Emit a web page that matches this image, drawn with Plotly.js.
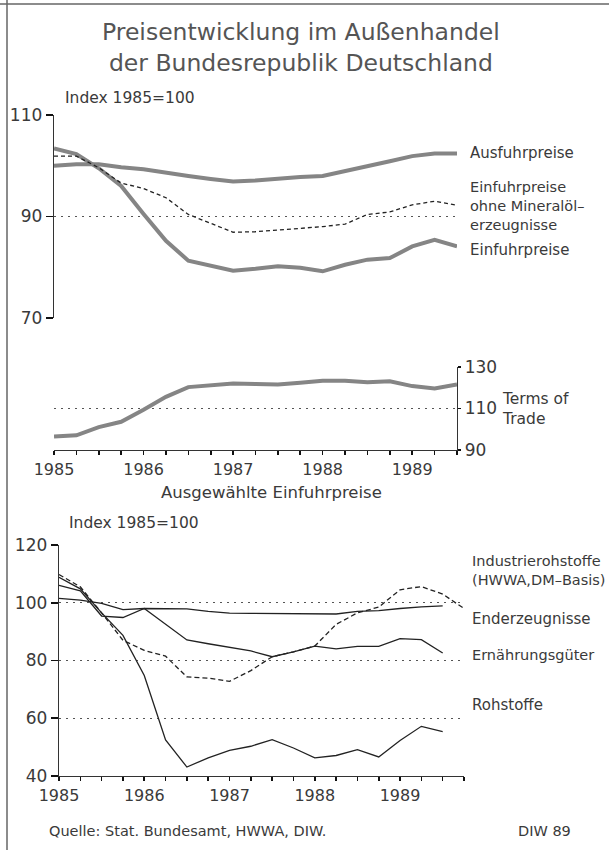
<!DOCTYPE html>
<html>
<head>
<meta charset="utf-8">
<script src="https://cdn.plot.ly/plotly-3.0.1.min.js"></script>
<style>html,body{margin:0;padding:0;background:#fff;}#chart{width:609px;height:850px;}</style>
</head>
<body>
<div id="chart"></div>
<script>
// ---- data ----
var quartersTop = [1985.0,1985.25,1985.5,1985.75,1986.0,1986.25,1986.5,1986.75,1987.0,1987.25,1987.5,1987.75,1988.0,1988.25,1988.5,1988.75,1989.0,1989.25,1989.5];
var quartersBottom = [1985.0,1985.25,1985.5,1985.75,1986.0,1986.25,1986.5,1986.75,1987.0,1987.25,1987.5,1987.75,1988.0,1988.25,1988.5,1988.75,1989.0,1989.25,1989.5,1989.75];
var years = [1985, 1986, 1987, 1988, 1989];
var yearLabels = ['1985', '1986', '1987', '1988', '1989'];

var ausfuhrpreise = [100.0,100.3,100.3,99.7,99.3,98.6,98.0,97.4,96.9,97.1,97.5,97.8,98.0,98.9,99.9,100.9,101.9,102.4,102.4];
var einfuhrpreise = [103.4,102.3,99.5,96.0,90.5,85.2,81.3,80.3,79.3,79.7,80.2,79.9,79.2,80.5,81.5,81.8,84.1,85.4,84.1];
var einfuhrOhneMineraloel = [101.9,101.9,99.6,96.6,95.5,93.7,90.4,88.7,86.9,87.0,87.3,87.7,88.0,88.5,90.4,90.9,92.3,93.0,92.2];
var termsOfTrade = [96.5,97.1,101.0,103.6,109.4,115.6,120.3,121.3,122.1,121.8,121.6,122.4,123.4,123.4,122.6,123.1,120.8,119.6,121.6];

var industrierohstoffe = [109.8,105.5,96.5,87.0,83.5,81.5,74.3,73.9,72.8,76.5,81.3,83.0,85.0,92.5,96.5,98.5,104.5,105.6,103.0,98.0];
var enderzeugnisse = [101.5,100.9,99.8,97.6,98.0,98.0,97.9,97.0,96.4,96.3,96.3,96.2,96.1,96.1,97.0,97.3,98.0,98.6,98.9];
var ernaehrungsgueter = [106.0,104.1,95.4,94.9,98.0,92.5,87.1,85.8,84.6,83.3,81.3,83.0,85.0,84.0,84.9,84.9,87.6,87.2,82.6];
var rohstoffe = [108.8,104.8,96.5,88.7,74.8,52.5,43.1,46.3,48.9,50.3,52.6,49.7,46.3,47.1,49.1,46.6,52.3,57.2,55.4];

var topTicks = [70,90,110];
var totTicks = [90,110,130];
var bottomTicks = [40,60,80,100,120];

// ---- layout helpers ----
var W = 609, H = 850;
function px(x){ return x / W; }
function py(y){ return 1 - y / H; }

var FONT = 'DejaVu Sans';
var TXT = '#3a3a3a';
var GRID = '#555';
var DOT = '2px,5px';
var TICKC = '#111';

var thickGray = {color:'#858585', width:4};
var thin = {color:'#222', width:1.3};

var traces = [
  {x: quartersTop, y: ausfuhrpreise, xaxis:'x', yaxis:'y', mode:'lines', line: thickGray, name:'Ausfuhrpreise'},
  {x: quartersTop, y: einfuhrpreise, xaxis:'x', yaxis:'y', mode:'lines', line: thickGray, name:'Einfuhrpreise'},
  {x: quartersTop, y: einfuhrOhneMineraloel, xaxis:'x', yaxis:'y', mode:'lines', line:{color:'#222', width:1.3, dash:'4px,3px'}, name:'ohne Mineralöl'},
  {x: quartersTop, y: termsOfTrade, xaxis:'x2', yaxis:'y2', mode:'lines', line: thickGray, name:'Terms of Trade'},
  {x: quartersBottom, y: industrierohstoffe, xaxis:'x3', yaxis:'y3', mode:'lines', line:{color:'#222', width:1.3, dash:'5px,3px'}, name:'Industrierohstoffe'},
  {x: quartersBottom.slice(0, enderzeugnisse.length), y: enderzeugnisse, xaxis:'x3', yaxis:'y3', mode:'lines', line: thin, name:'Enderzeugnisse'},
  {x: quartersBottom.slice(0, ernaehrungsgueter.length), y: ernaehrungsgueter, xaxis:'x3', yaxis:'y3', mode:'lines', line: thin, name:'Ernährungsgüter'},
  {x: quartersBottom.slice(0, rohstoffe.length), y: rohstoffe, xaxis:'x3', yaxis:'y3', mode:'lines', line: thin, name:'Rohstoffe'}
];

var tickFont = {family: FONT, size: 16, color: TXT};

function yearAxis(domain, range, anchor, overlay){
  var dir = overlay ? 'inside' : 'outside';
  var a = {
    domain: domain, range: range, anchor: anchor,
    tickmode:'array', tickvals: years, ticktext: yearLabels,
    ticks: dir, ticklen: 4, tickwidth: 1.6, tickcolor: TICKC,
    minor: {tick0: 1985, dtick: 0.25, ticks: dir, ticklen: 4, tickwidth: 1.6, tickcolor: TICKC, showgrid: false},
    showline: true, linecolor: '#333', linewidth: 1.3,
    showgrid: false, zeroline: false, tickfont: tickFont
  };
  if (overlay) { a.overlaying = overlay; a.showticklabels = false; }
  return a;
}

function valueAxis(domain, range, anchor, tickvals, side, ticks, len){
  return {domain: domain, range: range, anchor: anchor, side: side,
          tickmode:'array', tickvals: tickvals, ticks: ticks, ticklen: len, tickwidth:1.6, tickcolor: TICKC,
          showline:true, linecolor:'#333', linewidth:1.3,
          showgrid:true, gridcolor:GRID, gridwidth:1.3, griddash:DOT,
          zeroline:false, tickfont:{family:FONT, size:17, color:TXT}};
}

var layout = {
  width: W, height: H,
  margin: {l:0, r:0, t:0, b:0, pad:0},
  paper_bgcolor: '#fff', plot_bgcolor: '#fff',
  showlegend: false,
  font: {family: FONT, color: TXT},
  xaxis: {domain:[px(54), px(457)], range:[1985, 1989.5], anchor:'y', showticklabels:false, showline:false, showgrid:false, zeroline:false, ticks:''},
  yaxis: valueAxis([py(318), py(115)], [70,110], 'x', topTicks, 'left', 'outside', 7),
  xaxis2: yearAxis([px(54), px(457)], [1985, 1989.5], 'y2', null),
  xaxis4: yearAxis([px(54), px(457)], [1985, 1989.5], 'y2', 'x2'),
  yaxis2: valueAxis([py(450), py(367)], [90,130], 'x2', totTicks, 'right', 'outside', 3),
  xaxis3: yearAxis([px(59), px(464)], [1985, 1989.75], 'y3', null),
  xaxis5: yearAxis([px(59), px(464)], [1985, 1989.75], 'y3', 'x3'),
  yaxis3: valueAxis([py(776), py(545)], [40,120], 'x3', bottomTicks, 'left', 'outside', 7),
  shapes: [
    {type:'line', xref:'paper', yref:'paper', x0:0, x1:1, y0:py(4), y1:py(4), line:{color:'#666', width:1.5}},
    {type:'line', xref:'paper', yref:'paper', x0:px(7), x1:px(7), y0:0, y1:1, line:{color:'#666', width:1.5}}
  ],
  annotations: []
};

function note(text, x, y, size, anchor, color){
  layout.annotations.push({text:text, xref:'paper', yref:'paper', x:px(x), y:py(y), xanchor: anchor || 'left', yanchor:'middle',
           align: (anchor === 'center' ? 'center' : 'left'),
           showarrow:false, font:{family:FONT, size:size, color: color || TXT}});
}

note('Preisentwicklung im Außenhandel<br>der Bundesrepublik Deutschland', 301, 47, 23.5, 'center', '#555');
note('Index 1985=100', 63, 98, 15.5);
note('Ausfuhrpreise', 468, 153, 15);
note('Einfuhrpreise<br>ohne Mineralöl–<br>erzeugnisse', 468, 206, 14.5);
note('Einfuhrpreise', 468, 250, 15);
note('Terms of<br>Trade', 500, 409, 15.5);
note('Ausgewählte Einfuhrpreise', 271, 493, 16.5, 'center');
note('Index 1985=100', 67, 523, 15.5);
note('Industrierohstoffe<br>(HWWA,DM–Basis)', 470, 570, 14.5);
note('Enderzeugnisse', 470, 619, 15);
note('Ernährungsgüter', 470, 655, 14.5);
note('Rohstoffe', 470, 705, 15);
note('Quelle: Stat. Bundesamt, HWWA, DIW.', 47, 831, 14.5);
note('DIW 89', 516, 831, 14.5);

Plotly.newPlot('chart', traces, layout, {displayModeBar:false, staticPlot:true});
</script>
</body>
</html>
